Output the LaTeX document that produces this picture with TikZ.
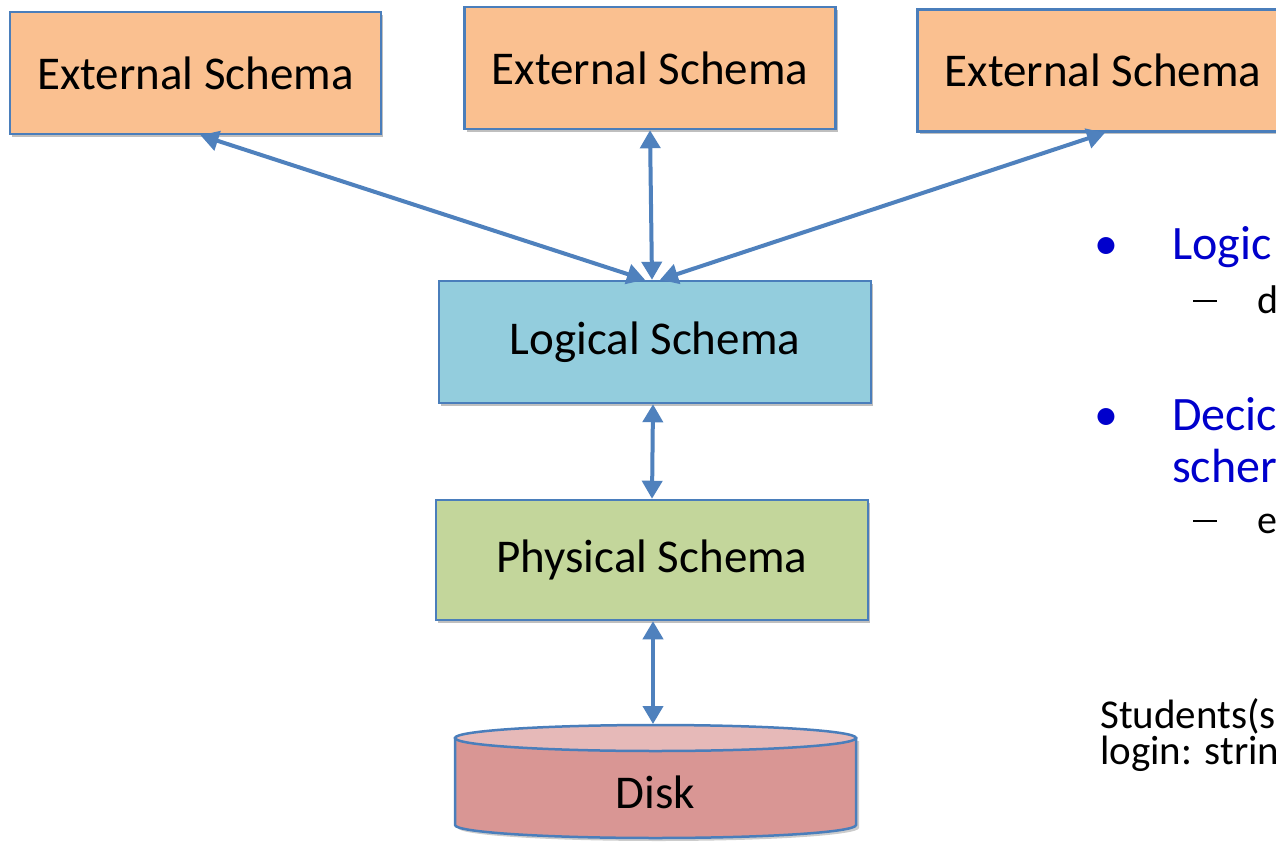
\documentclass[tikz,border=0pt]{standalone}
\usepackage{fontspec}
\setmainfont{Carlito}
\usetikzlibrary{arrows.meta,shadows}
\definecolor{ext}{HTML}{FAC090}
\definecolor{logi}{HTML}{93CDDD}
\definecolor{phys}{HTML}{C3D69B}
\definecolor{bord}{HTML}{4A7EBB}
\definecolor{arr}{HTML}{4F81BD}
\definecolor{diskbody}{HTML}{D99694}
\definecolor{disktop}{HTML}{E6B9B8}
\definecolor{bul}{HTML}{0000CC}
\newcommand{\mydash}{\rule[0.28em]{24pt}{2.2pt}}
\begin{document}
\begin{tikzpicture}[x=1pt,y=-1pt,
  box/.style={draw=bord, line width=2.5pt, minimum width=371pt, minimum height=122pt, inner sep=0pt,
    font=\fontsize{47}{56}\selectfont,
    drop shadow={shadow xshift=2pt, shadow yshift=-3pt, opacity=0.25, fill=black}},
  link/.style={draw=arr, line width=4pt, {Triangle[width=20pt,length=18pt]}-{Triangle[width=20pt,length=18pt]}},
  big/.style={font=\fontsize{48}{56}\selectfont, anchor=base west, inner sep=0pt},
  sub/.style={font=\fontsize{40}{48}\selectfont, anchor=base west, inner sep=0pt},
  note/.style={font=\fontsize{41}{29}\selectfont, anchor=base west, inner sep=0pt, align=left}]
\useasboundingbox (0,0) rectangle (1276,842);
\fill[white] (0,0) rectangle (1276,842);
% boxes
\node[box, fill=ext] (e1) at (195.5,73) {External Schema};
\node[box, fill=ext] (e2) at (650,68) {External Schema};
\node[box, fill=ext] (e3) at (1103,70.5) {External Schema};
\node[box, fill=logi, minimum width=432pt] (logical) at (655,342) {Logical Schema};
\node[box, fill=phys, minimum width=432pt, minimum height=120pt] (physical) at (652,560) {Physical Schema};
% disk
\fill[black, opacity=0.2] (458,741) -- (458,828) arc[start angle=180,end angle=0,x radius=200.5,y radius=13] -- (859,741) -- cycle;
\filldraw[fill=diskbody, draw=bord, line width=2.5pt] (455,738) -- (455,825) arc[start angle=180,end angle=0,x radius=200.5,y radius=13] -- (856,738) -- cycle;
\filldraw[fill=disktop, draw=bord, line width=2.5pt] (655.5,738) ellipse[x radius=200.5, y radius=13];
\node[font=\fontsize{47}{56}\selectfont, inner sep=0pt] (disk) at (655.5,792) {Disk};
\coordinate (disktop) at (653,724);
% connectors
\draw[link] ([xshift=5pt]e1.south) -- ([xshift=-10pt]logical.north);
\draw[link] (e2.south) -- ([xshift=-3pt]logical.north);
\draw[link] ([xshift=2pt]e3.south) -- ([xshift=5pt]logical.north);
\draw[link] ([xshift=-2pt]logical.south) -- (physical.north);
\draw[link] ([xshift=1pt]physical.south) -- (disktop);
% right text
\node[big, text=bul] (b1) at (1094,260) {•};
\node[big, text=bul] (t1) at (1172,260) {Logic};
\node[sub] (d1) at (1193,313) {\mydash};
\node[sub] (t2) at (1257,313) {d};
\node[big, text=bul] (b2) at (1094,430) {•};
\node[big, text=bul] (t3) at (1172,430) {Decic};
\node[big, text=bul] (t4) at (1172,482) {scher};
\node[sub] (d2) at (1193,533) {\mydash};
\node[sub] (t5) at (1257,533) {e};
\node[note] (s1) at (1100,764) {Students(s\\login: strin};
\end{tikzpicture}
\end{document}
